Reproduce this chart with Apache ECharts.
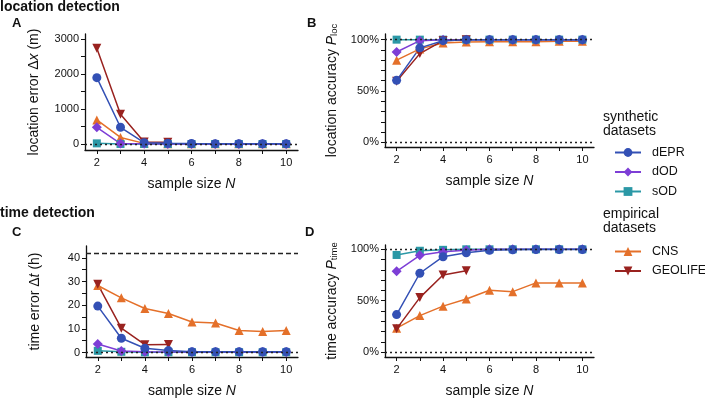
<!DOCTYPE html>
<html><head><meta charset="utf-8">
<script src="https://cdn.jsdelivr.net/npm/echarts@6/dist/echarts.min.js"></script>
<style>html,body{margin:0;padding:0;background:#fff}#c{width:705px;height:399px}</style>
</head><body><div id="c"></div>
<script>
// ---- data ----
var N = [2, 3, 4, 5, 6, 7, 8, 9, 10];
var N_GEOLIFE = [2, 3, 4, 5];
var xTicks = [2, 3, 4, 5, 6, 7, 8, 9, 10];
var xLabels = [2, 4, 6, 8, 10];

// A: location error (m)
var locErr_dEPR = [1900, 480, 40, 20, 15, 12, 10, 10, 10];
var locErr_dOD = [480, 15, 8, 5, 5, 5, 5, 5, 5];
var locErr_sOD = [20, 3, 2, 2, 2, 2, 2, 2, 2];
var locErr_CNS = [690, 190, 20, 12, 10, 10, 10, 10, 10];
var locErr_GEOLIFE = [2740, 850, 60, 50];
var locErrTicks = [0, 1000, 2000, 3000];
var locErrMinor = [0, 500, 1000, 1500, 2000, 2500, 3000];

// B: location accuracy (%)
var locAcc_dEPR = [60.4, 92, 99, 100, 100, 100, 100, 100, 100];
var locAcc_dOD = [88, 99, 100, 100, 100, 100, 100, 100, 100];
var locAcc_sOD = [100, 100, 100, 100, 100, 100, 100, 100, 100];
var locAcc_CNS = [80, 91, 96.8, 97.7, 98, 98, 98, 98.5, 98.5];
var locAcc_GEOLIFE = [59.5, 86.4, 99, 100];

// C: time error (h)
var timeErr_dEPR = [19.6, 6.0, 1.8, 0.8, 0.3, 0.3, 0.3, 0.3, 0.3];
var timeErr_dOD = [3.6, 0.6, 0.3, 0.2, 0.2, 0.2, 0.2, 0.2, 0.2];
var timeErr_sOD = [0.7, 0.3, 0.1, 0.1, 0.1, 0.1, 0.1, 0.1, 0.1];
var timeErr_CNS = [28.3, 23.1, 18.6, 16.5, 12.9, 12.5, 9.3, 8.9, 9.3];
var timeErr_GEOLIFE = [28.8, 10.3, 3.3, 3.4];
var timeErrTicks = [0, 10, 20, 30, 40];
var timeErrMinor = [0, 5, 10, 15, 20, 25, 30, 35, 40];
var timeErrRef = 42.1;

// D: time accuracy (%)
var timeAcc_dEPR = [36.5, 76.7, 92.8, 96.7, 99, 99.5, 99.7, 99.8, 99.8];
var timeAcc_dOD = [78.6, 94.2, 97.7, 99, 100, 100, 100, 100, 100];
var timeAcc_sOD = [94.5, 98.6, 99.5, 100, 100, 100, 100, 100, 100];
var timeAcc_CNS = [23.3, 35.5, 44.7, 51.7, 60.2, 58.8, 67.3, 67.3, 67.3];
var timeAcc_GEOLIFE = [22.6, 53, 75, 79.2];
var accTicks = [0, 50, 100];
var accMinor = [0, 10, 20, 30, 40, 50, 60, 70, 80, 90, 100];

var names = ['dEPR', 'dOD', 'sOD', 'CNS', 'GEOLIFE'];
var colors = {dEPR: '#3350b5', dOD: '#7d3ed6', sOD: '#2b98a6', CNS: '#e4702a', GEOLIFE: '#99221f'};
var symbols = {dEPR: 'circle', dOD: 'diamond', sOD: 'rect', CNS: 'triangle', GEOLIFE: 'triangle'};
var symSize = {dEPR: 9, dOD: 10, sOD: 8, CNS: 9, GEOLIFE: 9};
var rot = {dEPR: 0, dOD: 0, sOD: 0, CNS: 0, GEOLIFE: 180};

var panels = [
  {d: {dEPR: locErr_dEPR, dOD: locErr_dOD, sOD: locErr_sOD, CNS: locErr_CNS, GEOLIFE: locErr_GEOLIFE}},
  {d: {dEPR: locAcc_dEPR, dOD: locAcc_dOD, sOD: locAcc_sOD, CNS: locAcc_CNS, GEOLIFE: locAcc_GEOLIFE}},
  {d: {dEPR: timeErr_dEPR, dOD: timeErr_dOD, sOD: timeErr_sOD, CNS: timeErr_CNS, GEOLIFE: timeErr_GEOLIFE}},
  {d: {dEPR: timeAcc_dEPR, dOD: timeAcc_dOD, sOD: timeAcc_sOD, CNS: timeAcc_CNS, GEOLIFE: timeAcc_GEOLIFE}}
];

var FONT = '"Liberation Sans", Arial, sans-serif';
var grids = [
  {left: 85, top: 34, width: 213, height: 116},
  {left: 385, top: 34, width: 209, height: 113},
  {left: 86, top: 246, width: 212, height: 112},
  {left: 385, top: 245, width: 209, height: 112}
];

function xAxisFor(i) {
  return {
    type: 'value', gridIndex: i, min: 1.5, max: 10.5,
    axisLine: {onZero: false, lineStyle: {color: '#111', width: 1.3}},
    axisTick: {customValues: xTicks, length: 4, lineStyle: {color: '#111', width: 1}},
    axisLabel: {customValues: xLabels, color: '#111', fontSize: 11, fontFamily: FONT, margin: 7},
    splitLine: {show: false},
    name: '{a|sample size }{i|N}', nameLocation: 'middle', nameGap: 27,
    nameTextStyle: {rich: {a: {fontSize: 14, fontFamily: FONT, color: '#111'}, i: {fontSize: 14, fontFamily: FONT, fontStyle: 'italic', color: '#111'}}}
  };
}
var sub = {fontSize: 9.5, fontFamily: FONT, color: '#111', verticalAlign: 'bottom', lineHeight: 10, padding: [7, 0, 0, 0]};
var yAxes = [
  {type: 'value', gridIndex: 0, min: -170, max: 3150,
   axisTick: {customValues: locErrMinor}, axisLabel: {customValues: locErrTicks, formatter: function (v) { return String(v); }},
   name: '{a|location error Δ}{i|x}{a| (m)}', nameGap: 44},
  {type: 'value', gridIndex: 1, min: -4.5, max: 105.5,
   axisTick: {customValues: accMinor}, axisLabel: {customValues: accTicks, formatter: '{value}%'},
   name: '{a|location accuracy }{i|P}{s|loc}', nameGap: 46},
  {type: 'value', gridIndex: 2, min: -1.9, max: 45,
   axisTick: {customValues: timeErrMinor}, axisLabel: {customValues: timeErrTicks},
   name: '{a|time error Δ}{i|t}{a| (h)}', nameGap: 44},
  {type: 'value', gridIndex: 3, min: -4.8, max: 104.2,
   axisTick: {customValues: accMinor}, axisLabel: {customValues: accTicks, formatter: '{value}%'},
   name: '{a|time accuracy }{i|P}{s|time}', nameGap: 46}
];
yAxes.forEach(function (a) {
  a.axisLine = {show: true, onZero: false, lineStyle: {color: '#111', width: 1.3}};
  a.axisTick.length = 4; a.axisTick.lineStyle = {color: '#111', width: 1};
  a.axisLabel.color = '#111'; a.axisLabel.fontSize = 11; a.axisLabel.fontFamily = FONT; a.axisLabel.margin = 6;
  a.splitLine = {show: false};
  a.nameLocation = 'middle';
  a.nameTextStyle = {rich: {
    a: {fontSize: 14, fontFamily: FONT, color: '#111'},
    i: {fontSize: 14, fontFamily: FONT, fontStyle: 'italic', color: '#111'},
    s: sub}};
});

var refLines = [
  [{y: 0, t: 'dotted'}],
  [{y: 0, t: 'dotted'}, {y: 100, t: 'dotted'}],
  [{y: 0, t: 'dotted'}, {y: timeErrRef, t: 'dashed'}],
  [{y: 0, t: 'dotted'}, {y: 100, t: 'dotted'}]
];

var series = [];
var order = ['CNS', 'sOD', 'dOD', 'GEOLIFE', 'dEPR'];
panels.forEach(function (p, i) {
  series.push({
    type: 'line', xAxisIndex: i, yAxisIndex: i, data: [], silent: true,
    markLine: {symbol: 'none', silent: true, label: {show: false},
      data: refLines[i].map(function (r) {
        return {yAxis: r.y, lineStyle: {type: r.t === 'dotted' ? [2, 3] : [5, 3], color: '#222', width: 1.3}};
      })}
  });
  order.forEach(function (n) {
    var xs = n === 'GEOLIFE' ? N_GEOLIFE : N;
    series.push({
      name: n, type: 'line', xAxisIndex: i, yAxisIndex: i,
      data: p.d[n].map(function (v, k) { return [xs[k], v]; }),
      symbol: symbols[n], symbolSize: symSize[n], symbolRotate: rot[n],
      showSymbol: true, animation: false,
      lineStyle: {color: colors[n], width: 1.5},
      itemStyle: {color: colors[n]}
    });
  });
});

function txt(x, y, s, size, bold) {
  return {type: 'text', left: x, top: y, style: {text: s, font: (bold ? 'bold ' : '') + size + 'px ' + FONT, fill: '#111'}};
}

var legendText = {fontSize: 12.5, fontFamily: FONT, color: '#111', padding: [0, 0, 0, 6], overflow: 'none', width: 80};
var chart = echarts.init(document.getElementById('c'), null, {renderer: 'canvas'});
chart.setOption({
  animation: false,
  color: names.map(function (n) { return colors[n]; }),
  grid: grids,
  xAxis: [0, 1, 2, 3].map(xAxisFor),
  yAxis: yAxes,
  series: series,
  legend: [
    {data: ['dEPR', 'dOD', 'sOD'], orient: 'vertical', left: 614, top: 146, padding: 0, itemWidth: 26, itemHeight: 11, itemGap: 6.5,
     textStyle: legendText, selectedMode: false},
    {data: ['CNS', 'GEOLIFE'], orient: 'vertical', left: 614, top: 245, padding: 0, itemWidth: 26, itemHeight: 11, itemGap: 6.5,
     textStyle: legendText, selectedMode: false}
  ],
  graphic: [
    txt(0, 0, 'location detection', 14, true),
    txt(12, 17, 'A', 13, true),
    txt(307, 17, 'B', 13, true),
    txt(0, 206, 'time detection', 14, true),
    txt(12, 226, 'C', 13, true),
    txt(305, 226, 'D', 13, true),
    {type: 'text', left: 603, top: 110, style: {text: 'synthetic\ndatasets', font: '14px ' + FONT, fill: '#111', lineHeight: 14}},
    {type: 'text', left: 603, top: 207, style: {text: 'empirical\ndatasets', font: '14px ' + FONT, fill: '#111', lineHeight: 14}}
  ]
});
</script></body></html>
